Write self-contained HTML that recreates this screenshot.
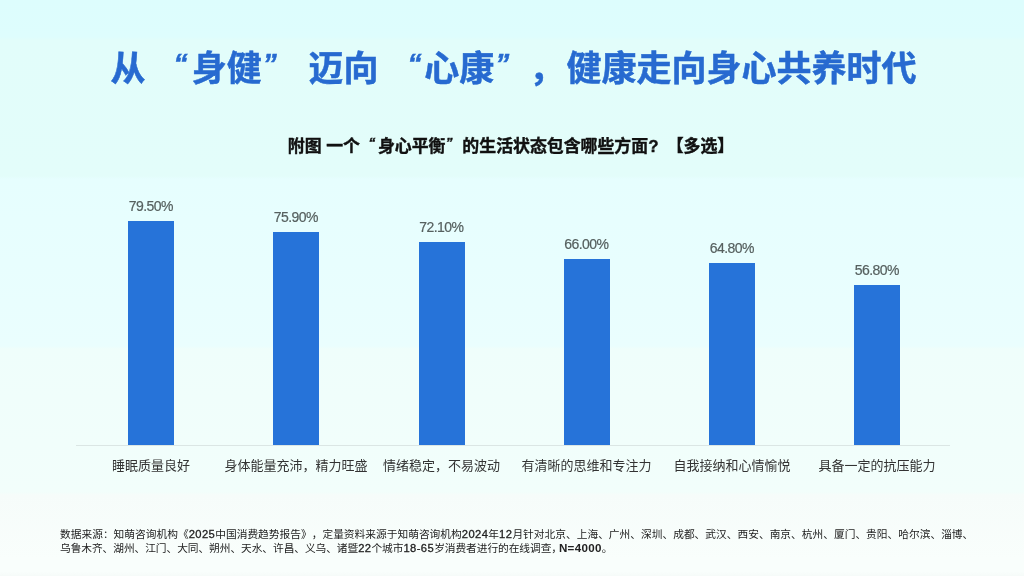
<!DOCTYPE html>
<html lang="zh-CN">
<head>
<meta charset="utf-8">
<title>从“身健”迈向“心康”，健康走向身心共养时代</title>
<style>
  html, body { margin: 0; padding: 0; }
  html { background: #f6fbf9; }
  body {
    width: 1024px; height: 576px; overflow: hidden; position: relative;
    font-family: "Liberation Sans", "Noto Sans CJK SC", sans-serif;
    background: linear-gradient(to bottom, #ddfdfd 0px, #defdfd 37px, #e2fdfa 40px, #e3fdfa 176px, #e6fefe 179px, #eafefe 346px, #effefb 349px, #f2fefb 492px, #f6fcfa 495px, #f9fefc 560px, #f9fefc 571px, #f6fbf9 576px);
  }
  .abs { position: absolute; white-space: nowrap; text-spacing-trim: space-all; font-kerning: none; }
  .title {
    left: 0; width: 1027px; top: 45px; height: 48px; line-height: 48px;
    text-align: center; font-size: 35px; font-weight: 700; color: #276ad0; word-spacing: 1px; -webkit-text-stroke: 0.5px #276ad0;
  }
  .q { display: inline-block; width: 1.25em; font-size: 0.8em; line-height: 1; font-style: italic; position: relative; top: -0.3em; }
  .qo { text-align: right; left: -0.1em; }
  .qc { text-align: left; left: 0.03em; }
  .title .cm { margin-right: 2px; }
  .subtitle {
    left: 0; width: 1022px; top: 133.5px; height: 26px; -webkit-text-stroke: 0.4px #111; line-height: 26px;
    text-align: center; font-size: 16.9px; font-weight: 700; color: #111;
  }
  .axis { left: 76px; top: 445px; width: 874px; height: 1px; background: #dbe6e4; }
  .bar { width: 46px; background: #2673d9; }
  .val { width: 120px; text-align: center; font-size: 14px; letter-spacing: -0.55px; line-height: 16px; color: #56605f; -webkit-text-stroke: 0.2px #56605f; margin-top: 0px; text-indent: -0.3px; }
  .cat { width: 180px; text-align: center; font-size: 13px; line-height: 18px; color: #333; top: 457px; }
  .foot .d { font-size: 11.2px; letter-spacing: 0.42px; -webkit-text-stroke: 0.3px #222; }
  .foot .l2 { letter-spacing: -0.07px; }
  .foot .n { font-weight: 700; font-size: 11.6px; letter-spacing: 0.3px; margin-left: -3px; }
  .foot { left: 60px; top: 527px; font-size: 10.72px; line-height: 14px; color: #222; }
</style>
</head>
<body>
  <div class="abs title">从 <span class="q qo" style="margin-left:-1px">“</span><span style="margin-left:1.5px">身健</span><span class="q qc">”</span> <span style="margin-left:1px">迈向</span> <span class="q qo">“</span>心康<span class="q qc">”</span><span class="cm">，</span>健康走向身心共养时代</div>
  <div class="abs subtitle">附图 一个<span class="q qo" style="margin-left:1px; left:-0.2em">“</span>身心平衡<span class="q qc">”</span>的生活状态包含哪些方面<span style="margin-right:3.5px">?</span> 【多选】</div>

  <div class="abs axis"></div>

  <div class="abs bar" style="left:128px; top:221px; height:224px;"></div>
  <div class="abs bar" style="left:273px; top:231.5px; height:213.5px;"></div>
  <div class="abs bar" style="left:418.5px; top:242px; height:203px;"></div>
  <div class="abs bar" style="left:563.5px; top:259px; height:186px;"></div>
  <div class="abs bar" style="left:709px; top:262.5px; height:182.5px;"></div>
  <div class="abs bar" style="left:854.4px; top:285.4px; height:159.6px;"></div>

  <div class="abs val" style="left:91px; top:198px;">79.50%</div>
  <div class="abs val" style="left:236px; top:208.5px;">75.90%</div>
  <div class="abs val" style="left:381.5px; top:219px;">72.10%</div>
  <div class="abs val" style="left:526.5px; top:236px;">66.00%</div>
  <div class="abs val" style="left:672px; top:239.5px;">64.80%</div>
  <div class="abs val" style="left:817px; top:262px;">56.80%</div>

  <div class="abs cat" style="left:61px;">睡眠质量良好</div>
  <div class="abs cat" style="left:206px;">身体能量充沛，精力旺盛</div>
  <div class="abs cat" style="left:351.5px;">情绪稳定，不易波动</div>
  <div class="abs cat" style="left:496.5px;">有清晰的思维和专注力</div>
  <div class="abs cat" style="left:642px;">自我接纳和心情愉悦</div>
  <div class="abs cat" style="left:787px;">具备一定的抗压能力</div>

  <div class="abs foot">数据来源：知萌咨询机构《<span class="d">2025</span>中国消费趋势报告》，定量资料来源于知萌咨询机构<span class="d">2024</span>年<span class="d">12</span>月针对北京、上海、广州、深圳、成都、武汉、西安、南京、杭州、厦门、贵阳、哈尔滨、淄博、<br><span class="l2">乌鲁木齐、湖州、江门、大同、朔州、天水、许昌、义乌、诸暨<span class="d">22</span>个城市<span class="d">18-65</span>岁消费者进行的在线调查，<span class="n">N=4000</span>。</span></div>
</body>
</html>
